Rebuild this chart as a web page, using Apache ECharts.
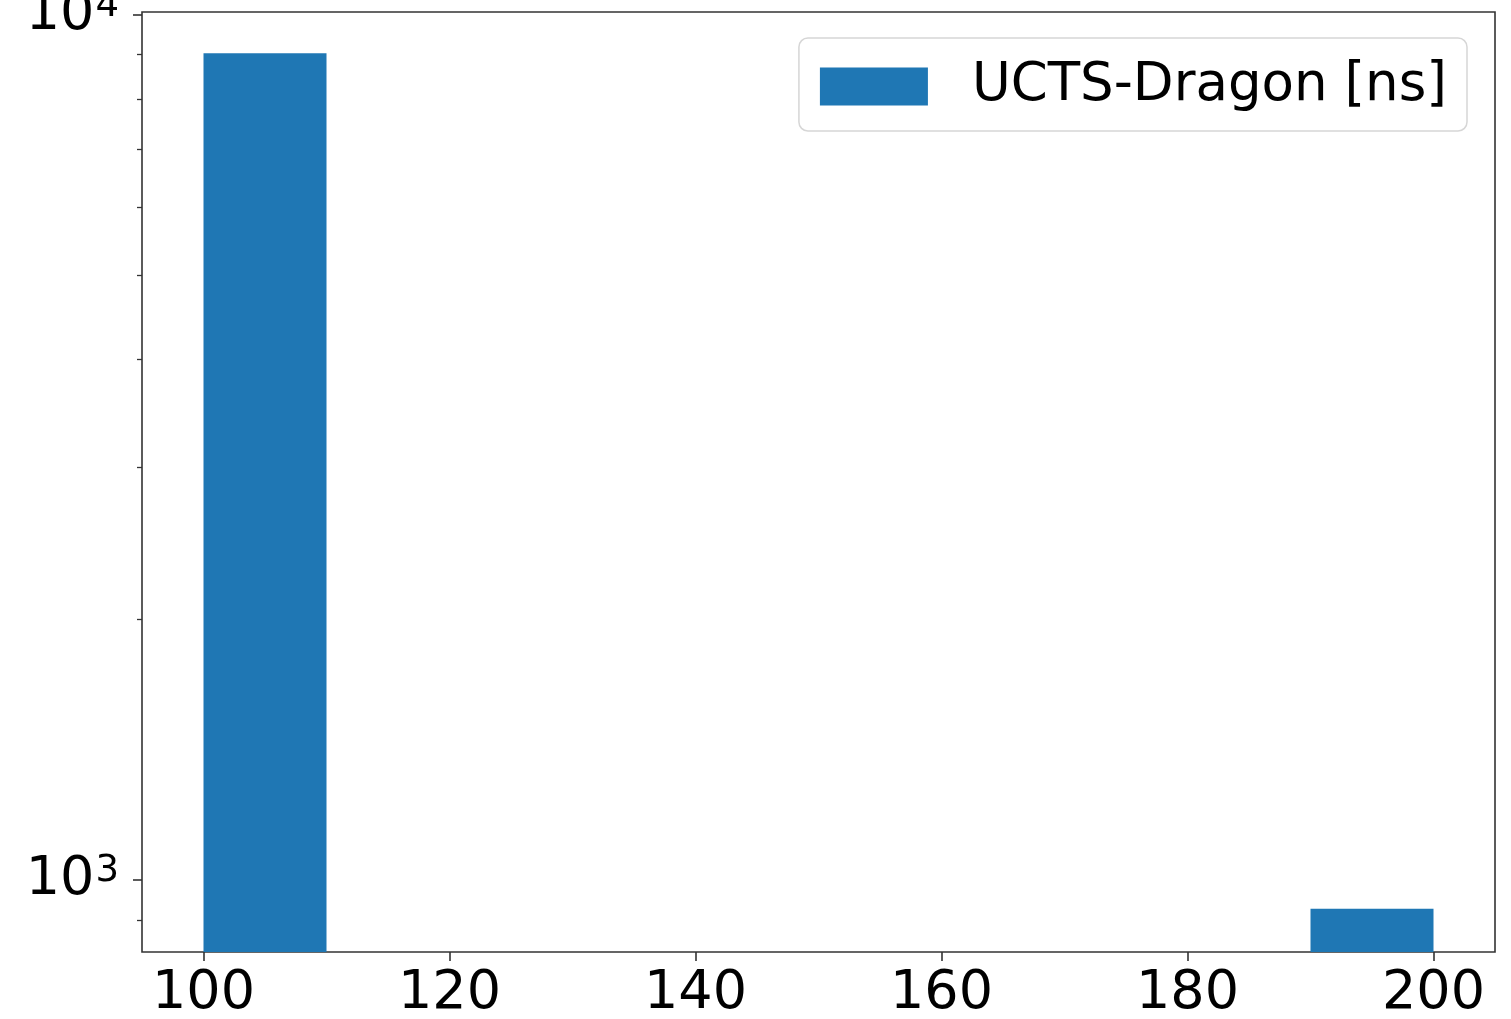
<!DOCTYPE html>
<html>
<head>
<meta charset="utf-8">
<script src="https://cdn.jsdelivr.net/npm/echarts@6/dist/echarts.min.js"></script>
<style>
html,body{margin:0;padding:0;background:#fff;}
#chart{width:1511px;height:1019px;}
</style>
</head>
<body>
<div id="chart"></div>
<script>
// Histogram bins (left edge, right edge) and counts
var binStarts = [100, 110, 120, 130, 140, 150, 160, 170, 180, 190];
var binEnds   = [110, 120, 130, 140, 150, 160, 170, 180, 190, 200];
var counts    = [9030, 0, 0, 0, 0, 0, 0, 0, 0, 927];
var seriesName = 'UCTS-Dragon [ns]';
var xTicks = [100, 120, 140, 160, 180, 200];
var yMajorTicks = [1000, 10000];
var yMinorTicks = [900, 2000, 3000, 4000, 5000, 6000, 7000, 8000, 9000];

var xMin = 95, xMax = 205, yMin = 826, yMax = 10080;

var data = [];
for (var i = 0; i < counts.length; i++) {
  if (counts[i] > 0) data.push([binStarts[i], binEnds[i], counts[i]]);
}

var FONT = 'DejaVu Sans';
var chart = echarts.init(document.getElementById('chart'), null, {renderer: 'canvas'});
chart.setOption({
  animation: false,
  backgroundColor: '#ffffff',
  grid: {
    left: 142, right: 16, top: 12, bottom: 67,
    outerBoundsMode: 'none', containLabel: false,
    show: true, borderColor: '#333333', borderWidth: 1.6,
    backgroundColor: 'transparent'
  },
  legend: {
    right: 44, top: 38,
    data: [seriesName],
    itemWidth: 108, itemHeight: 38,
    padding: [22, 20, 18, 21],
    borderColor: '#d6d6d6', borderWidth: 1.5, borderRadius: 9,
    backgroundColor: 'rgba(255,255,255,0.8)',
    icon: 'rect',
    textStyle: {fontFamily: FONT, fontSize: 53, color: '#000', padding: [0, 0, 0, 39]}
  },
  xAxis: {
    type: 'value', min: xMin, max: xMax,
    axisLine: {show: false},
    splitLine: {show: false},
    axisTick: {show: true, length: 9, lineStyle: {color: '#333', width: 1.6}, customValues: xTicks},
    axisLabel: {
      customValues: xTicks, margin: 15,
      fontFamily: FONT, fontSize: 54, color: '#000', lineHeight: 54
    }
  },
  yAxis: [{
    type: 'log', logBase: 10, min: yMin, max: yMax,
    axisLine: {show: false},
    splitLine: {show: false},
    axisTick: {show: true, length: 9, lineStyle: {color: '#333', width: 1.6}, customValues: yMajorTicks},
    axisLabel: {
      customValues: yMajorTicks, margin: 23,
      formatter: function (v) { return '{b|10}{s|' + Math.round(Math.log10(v)) + '}'; },
      rich: {
        b: {fontFamily: FONT, fontSize: 54, color: '#000', lineHeight: 54},
        s: {fontFamily: FONT, fontSize: 37, color: '#000', verticalAlign: 'top', lineHeight: 36, padding: [0, 0, 0, 1]}
      }
    }
  }, {
    type: 'log', logBase: 10, min: yMin, max: yMax, position: 'left',
    axisLine: {show: false},
    splitLine: {show: false},
    axisLabel: {show: false},
    axisTick: {show: true, length: 5, lineStyle: {color: '#333', width: 1.3}, customValues: yMinorTicks}
  }],
  series: [{
    name: seriesName,
    type: 'custom',
    color: '#1f77b4',
    itemStyle: {color: '#1f77b4'},
    encode: {x: [0, 1], y: 2},
    clip: true,
    renderItem: function (params, api) {
      var p0 = api.coord([api.value(0), api.value(2)]);
      var p1 = api.coord([api.value(1), api.value(2)]);
      var bottom = params.coordSys.y + params.coordSys.height;
      return {
        type: 'rect',
        shape: {x: p0[0], y: p0[1], width: p1[0] - p0[0], height: bottom - p0[1]},
        style: {fill: '#1f77b4'}
      };
    },
    data: data
  }]
});
</script>
</body>
</html>
